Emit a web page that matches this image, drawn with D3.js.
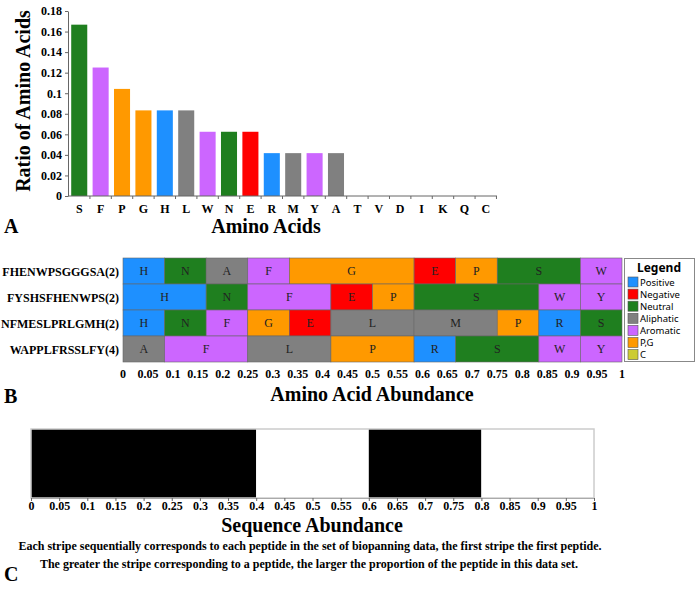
<!DOCTYPE html>
<html>
<head>
<meta charset="utf-8">
<script src="https://cdn.jsdelivr.net/npm/d3@7"></script>
<style>
  body { margin: 0; background: #fff; }
  svg { display: block; }
</style>
</head>
<body>
<svg id="chart" width="696" height="591"></svg>
<script>
// ---- data ----
const aaLetters = ["S","F","P","G","H","L","W","N","E","R","M","Y","A","T","V","D","I","K","Q","C"]
const aaRatios  = [0.1667,0.125,0.1042,0.0833,0.0833,0.0833,0.0625,0.0625,0.0625,0.0417,0.0417,0.0417,0.0417,0,0,0,0,0,0,0]

const peptides = ["FHENWPSGGGSA(2)","FYSHSFHENWPS(2)","NFMESLPRLGMH(2)","WAPPLFRSSLFY(4)"]
const rowLetters = [
  ["H","N","A","F","G","E","P","S","W"],
  ["H","N","F","E","P","S","W","Y"],
  ["H","N","F","G","E","L","M","P","R","S"],
  ["A","F","L","P","R","S","W","Y"]
]
const rowCounts = [
  [1,1,1,1,3,1,1,2,1],
  [2,1,2,1,1,3,1,1],
  [1,1,1,1,1,2,2,1,1,1],
  [1,2,2,2,1,2,1,1]
]
const peptideLength = 12

const stripeAbundance = [0.4, 0.2, 0.2, 0.2]

const groupNames = ["Positive","Negative","Neutral","Aliphatic","Aromatic","P,G","C"]
const groupColors = ["#1e90ff","#ff0000","#1f7f1f","#808080","#cc66ff","#ff9900","#cccc33"]
const groupMembers = [["H","R","K"],["D","E"],["S","T","N","Q"],["A","V","L","I","M"],["F","W","Y"],["P","G"],["C"]]

const aaColor = {}
groupMembers.forEach((m, i) => m.forEach(a => aaColor[a] = groupColors[i]))

const svg = d3.select('#chart')
const SERIF = '"Liberation Serif", "Times New Roman", serif'
const SANS = '"Noto Sans", "Open Sans", sans-serif'
const fmt = d => d < 1e-9 ? '0' : String(+d.toFixed(2))

/**
 * @PanelA
 */
const xA = d3.scaleBand().domain(aaLetters).range([68, 497]).paddingInner(0.25).paddingOuter(0.15)
const yA = d3.scaleLinear().domain([0, 0.18]).range([196, 11])

const yAxisA = svg.append('g')
  .attr('transform', 'translate(68,0)')
  .call(d3.axisLeft(yA).tickValues(d3.range(0, 0.181, 0.02)).tickSize(3).tickSizeOuter(0).tickFormat(fmt))
yAxisA.selectAll('text').attr('font-family', SERIF).attr('font-weight', 'bold').attr('font-size', 12).attr('fill', '#000')
yAxisA.select('.domain').attr('stroke', '#666')
yAxisA.selectAll('line').attr('stroke', '#666')

svg.append('g').selectAll('rect')
  .data(aaLetters)
  .join('rect')
  .attr('x', d => xA(d))
  .attr('y', (d, i) => yA(aaRatios[i]))
  .attr('width', xA.bandwidth())
  .attr('height', (d, i) => yA(0) - yA(aaRatios[i]))
  .attr('fill', d => aaColor[d])

// x axis line + boundary ticks
svg.append('line')
  .attr('x1', 68).attr('x2', 497).attr('y1', yA(0)).attr('y2', yA(0))
  .attr('stroke', '#666')
svg.append('g').selectAll('line')
  .data(aaLetters)
  .join('line')
  .attr('x1', d => xA(d) + xA.bandwidth() + xA.step() * 0.125)
  .attr('x2', d => xA(d) + xA.bandwidth() + xA.step() * 0.125)
  .attr('y1', yA(0)).attr('y2', yA(0) + 3)
  .attr('stroke', '#666')
svg.append('g').selectAll('text')
  .data(aaLetters)
  .join('text')
  .attr('x', d => xA(d) + xA.bandwidth() / 2)
  .attr('y', 213)
  .attr('text-anchor', 'middle')
  .attr('font-family', SERIF).attr('font-weight', 'bold').attr('font-size', 12)
  .text(d => d)

svg.append('text')
  .attr('transform', 'translate(30,101) rotate(-90)')
  .attr('text-anchor', 'middle')
  .attr('font-family', SERIF).attr('font-weight', 'bold').attr('font-size', 20)
  .text('Ratio of Amino Acids')
svg.append('text')
  .attr('x', 266).attr('y', 233)
  .attr('text-anchor', 'middle')
  .attr('font-family', SERIF).attr('font-weight', 'bold').attr('font-size', 20)
  .text('Amino Acids')
svg.append('text')
  .attr('x', 4).attr('y', 233)
  .attr('font-family', SERIF).attr('font-weight', 'bold').attr('font-size', 20)
  .text('A')

/**
 * @PanelB
 */
const xB = d3.scaleLinear().domain([0, 1]).range([123, 622])
const yB = d3.scaleBand().domain(peptides).range([258, 362])

peptides.forEach((p, r) => {
  let acc = 0
  const segs = rowLetters[r].map((a, i) => {
    const s = { a: a, x0: acc / peptideLength, x1: (acc + rowCounts[r][i]) / peptideLength }
    acc += rowCounts[r][i]
    return s
  })
  const g = svg.append('g')
  g.selectAll('rect')
    .data(segs)
    .join('rect')
    .attr('x', d => xB(d.x0))
    .attr('y', yB(p))
    .attr('width', d => xB(d.x1) - xB(d.x0))
    .attr('height', yB.bandwidth())
    .attr('fill', d => aaColor[d.a])
    .attr('stroke', '#666')
    .attr('stroke-width', 0.6)
  g.selectAll('text')
    .data(segs)
    .join('text')
    .attr('x', d => (xB(d.x0) + xB(d.x1)) / 2)
    .attr('y', yB(p) + yB.bandwidth() / 2 + 4)
    .attr('text-anchor', 'middle')
    .attr('font-family', SERIF).attr('font-size', 12).attr('fill', '#222')
    .text(d => d.a)
})

svg.append('g').selectAll('text')
  .data(peptides)
  .join('text')
  .attr('x', 119)
  .attr('y', d => yB(d) + yB.bandwidth() / 2 + 4.5)
  .attr('text-anchor', 'end')
  .attr('font-family', SERIF).attr('font-weight', 'bold').attr('font-size', 12)
  .text(d => d)

svg.append('g').selectAll('text')
  .data(d3.range(0, 1.0001, 0.05))
  .join('text')
  .attr('x', d => xB(d))
  .attr('y', 378)
  .attr('text-anchor', 'middle')
  .attr('font-family', SERIF).attr('font-weight', 'bold').attr('font-size', 12)
  .text(fmt)

svg.append('text')
  .attr('x', 372).attr('y', 401)
  .attr('text-anchor', 'middle')
  .attr('font-family', SERIF).attr('font-weight', 'bold').attr('font-size', 20)
  .text('Amino Acid Abundance')
svg.append('text')
  .attr('x', 4).attr('y', 403)
  .attr('font-family', SERIF).attr('font-weight', 'bold').attr('font-size', 20)
  .text('B')

// legend
const Legend = svg.append('g')
Legend.append('rect')
  .attr('x', 624.5).attr('y', 258.5).attr('width', 70).attr('height', 103)
  .attr('fill', '#fff').attr('stroke', '#888')
Legend.append('text')
  .attr('x', 637).attr('y', 272)
  .attr('font-family', SANS).attr('font-weight', 'bold').attr('font-size', 12)
  .text('Legend')
const items = Legend.selectAll('.item')
  .data(groupNames)
  .join('g')
  .attr('transform', (d, i) => `translate(628,${282 + i * 12.1})`)
items.append('rect')
  .attr('x', 0).attr('y', -5).attr('width', 10).attr('height', 10)
  .attr('fill', (d, i) => groupColors[i]).attr('stroke', '#555').attr('stroke-width', 0.6)
items.append('text')
  .attr('x', 12).attr('y', 3.5)
  .attr('font-family', SANS).attr('font-size', 9.5)
  .text(d => d)

/**
 * @PanelC
 */
const xC = d3.scaleLinear().domain([0, 1]).range([31, 594])
let cum = 0
const stripes = stripeAbundance.map((v, i) => {
  const s = { x0: cum, x1: cum + v, i: i }
  cum += v
  return s
})
svg.append('g').selectAll('rect')
  .data(stripes)
  .join('rect')
  .attr('x', d => xC(d.x0))
  .attr('y', 429)
  .attr('width', d => xC(d.x1) - xC(d.x0))
  .attr('height', 69)
  .attr('fill', d => d.i % 2 === 0 ? '#000' : '#fff')
svg.append('rect')
  .attr('x', xC(0)).attr('y', 429).attr('width', xC(1) - xC(0)).attr('height', 69)
  .attr('fill', 'none').attr('stroke', '#ccc').attr('stroke-width', 1.5)

const xAxisC = svg.append('g')
  .attr('transform', 'translate(0,498)')
  .call(d3.axisBottom(xC).tickValues(d3.range(0, 1.0001, 0.05)).tickSize(3).tickSizeOuter(0).tickFormat(fmt))
xAxisC.select('.domain').attr('stroke', '#aaa')
xAxisC.selectAll('line').attr('stroke', '#666')
xAxisC.selectAll('text').attr('font-family', SERIF).attr('font-weight', 'bold').attr('font-size', 12).attr('fill', '#000').attr('dy', '0.5em')

svg.append('text')
  .attr('x', 312).attr('y', 532)
  .attr('text-anchor', 'middle')
  .attr('font-family', SERIF).attr('font-weight', 'bold').attr('font-size', 20)
  .text('Sequence Abundance')
svg.append('text')
  .attr('x', 310).attr('y', 550)
  .attr('text-anchor', 'middle')
  .attr('font-family', SERIF).attr('font-weight', 'bold').attr('font-size', 12)
  .text('Each stripe sequentially corresponds to each peptide in the set of biopanning data, the first stripe the first peptide.')
svg.append('text')
  .attr('x', 309).attr('y', 568)
  .attr('text-anchor', 'middle')
  .attr('font-family', SERIF).attr('font-weight', 'bold').attr('font-size', 12)
  .text('The greater the stripe corresponding to a peptide, the larger the proportion of the peptide in this data set.')
svg.append('text')
  .attr('x', 4).attr('y', 581)
  .attr('font-family', SERIF).attr('font-weight', 'bold').attr('font-size', 20)
  .text('C')
</script>
</body>
</html>
